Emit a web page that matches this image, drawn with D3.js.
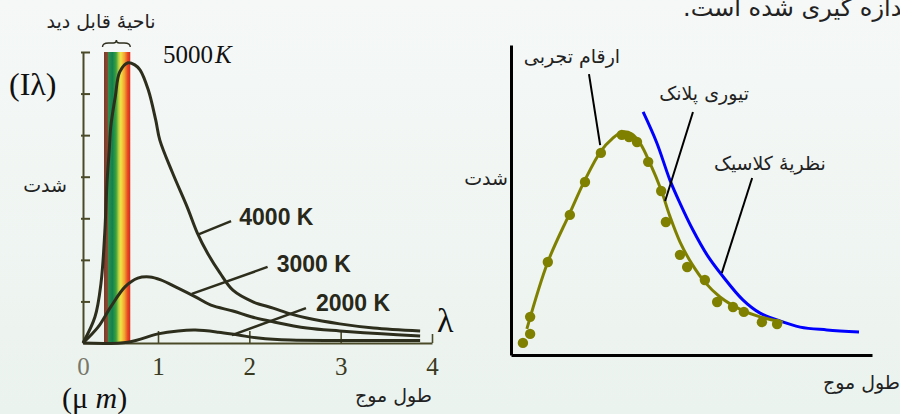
<!DOCTYPE html>
<html>
<head>
<meta charset="utf-8">
<script src="https://cdn.jsdelivr.net/npm/d3@7"></script>
<style>
  body { margin: 0; background: #f2f7f5; }
  svg { display: block; }
</style>
</head>
<body>
<div id="chart"></div>
<script>
// left panel: blackbody curves, x in micrometres, y in arbitrary intensity units
var lambdaTicks = [0, 1, 2, 3, 4];
var intensityTicks = [1, 2, 3, 4, 5, 6, 7];

var curveBig = [[0,0],[0.16,0.63],[0.24,1.44],[0.29,2.65],[0.32,3.85],[0.35,4.64],[0.37,5.2],
  [0.43,5.92],[0.49,6.52],[0.6,6.74],[0.69,6.69],[0.76,6.57],[0.87,6.09],[0.97,5.36],[1.02,4.88],
  [1.16,4.09],[1.32,3.27],[1.43,2.65],[1.54,2.17],[1.68,1.68],[1.82,1.27],[2.04,0.99],[2.26,0.84],
  [2.45,0.7],[2.63,0.6],[2.99,0.46],[3.36,0.36],[3.87,0.29]];
var curveMid = [[0,0],[0.2,0.38],[0.37,0.87],[0.56,1.35],[0.73,1.56],[0.89,1.59],[1.03,1.52],
  [1.22,1.32],[1.41,1.11],[1.58,0.91],[1.82,0.77],[2.02,0.63],[2.26,0.51],[2.63,0.36],[2.99,0.29],
  [3.45,0.22],[3.87,0.17]];
var curveSmall = [[0,0],[0.6,0.02],[1.0,0.22],[1.22,0.29],[1.41,0.31],[1.66,0.26],[1.88,0.19],
  [2.1,0.12],[2.45,0.07],[2.99,0.06],[3.87,0.06]];

var tempLabels = ["4000 K", "3000 K", "2000 K"];
// pointer ends [x0,y0,x1,y1] in data units, label anchor [x,y]
var tempPointers = [[1.80,2.93,1.43,2.60],[2.20,1.83,1.37,1.18],[2.62,0.84,1.81,0.19]];
var tempLabelPos = [[1.89,2.83],[2.30,1.70],[2.73,0.76]];

// right panel: measured points, planck fit, classical theory (arbitrary units)
var measured = [[0.33,0.39],[0.53,0.68],[0.53,1.23],[1.02,3.0],[1.63,4.52],[2.05,5.58],[2.49,6.52],
  [3.07,7.1],[3.27,7.03],[3.49,6.87],[3.8,6.23],[4.16,5.29],[4.29,4.29],[4.68,3.23],[4.88,2.84],
  [5.37,2.42],[5.71,1.71],[6.15,1.55],[6.45,1.39],[6.95,1.06],[7.37,1.0]];
var planck = [[0.44,0.84],[1.02,3.0],[1.63,4.58],[2.05,5.65],[2.49,6.58],[2.8,6.97],[3.07,7.19],
  [3.35,7.13],[3.57,6.84],[3.85,6.19],[4.16,5.32],[4.4,4.48],[4.68,3.65],[5.01,2.94],[5.37,2.35],
  [5.79,1.87],[6.34,1.48],[6.9,1.23],[7.53,1.06]];
var classical = [[3.66,7.84],[4.04,6.84],[4.4,5.65],[4.68,4.9],[5.04,4.03],[5.43,3.23],[5.84,2.58],
  [6.43,1.77],[6.9,1.35],[7.37,1.13],[8.01,0.9],[8.75,0.81],[9.64,0.74]];

var rightLabels = ["ارقام تجربی", "تیوری پلانک", "نظریهٔ کلاسیک"];
var rightLabelPos = [[1.69,9.42],[5.35,8.23],[7.17,5.97]];
var rightPointers = [[2.16,9.06,2.47,6.77],[5.04,7.84,4.27,4.97],[6.68,5.71,5.84,2.65]];

var width = 900, height = 414;
var ink = "#2e2e1d";
var persian = "'DejaVu Sans', sans-serif";
var serif = "'Liberation Serif', 'Times New Roman', serif";

var svg = d3.select("#chart").append("svg")
  .attr("width", width)
  .attr("height", height);

var defs = svg.append("defs");
var bg = defs.append("linearGradient").attr("id", "bg").attr("x1", 0).attr("y1", 0).attr("x2", 0).attr("y2", 1);
bg.append("stop").attr("offset", "0%").attr("stop-color", "#f5f8f7");
bg.append("stop").attr("offset", "100%").attr("stop-color", "#ebf3ee");

var rainbow = defs.append("linearGradient").attr("id", "rainbow");
[["0%","#7a3a2c"],["14%","#8a4a30"],["17%","#2e8e4e"],["32%","#11814f"],["46%","#3ca23e"],
 ["56%","#b9d043"],["64%","#f2e443"],["78%","#f2a233"],["90%","#e64a22"],["100%","#d8261e"]]
  .forEach(function(s) {
    rainbow.append("stop").attr("offset", s[0]).attr("stop-color", s[1]);
  });

svg.append("rect").attr("width", width).attr("height", height).attr("fill", "url(#bg)");

// ---------- left panel ----------
var x1 = d3.scaleLinear().domain([0, 1, 4]).range([83, 158, 432]);
var y1 = d3.scaleLinear().domain([0, 7]).range([343, 52]);

var left = svg.append("g");

// visible region strip (0.4 - 0.7 um)
left.append("rect")
  .attr("x", x1(0.28)).attr("y", y1(7))
  .attr("width", x1(0.63) - x1(0.28))
  .attr("height", y1(0) - y1(7))
  .attr("fill", "url(#rainbow)");

var bx0 = x1(0.26), bx1 = x1(0.63), bm = (bx0 + bx1) / 2, by = y1(7) - 9;
left.append("path")
  .attr("d", "M" + bx0 + "," + (by + 4) + " Q" + bx0 + "," + by + " " + (bx0 + 6) + "," + by +
    " L" + (bm - 3) + "," + by + " Q" + bm + "," + by + " " + bm + "," + (by - 3) +
    " Q" + bm + "," + by + " " + (bm + 3) + "," + by + " L" + (bx1 - 6) + "," + by +
    " Q" + bx1 + "," + by + " " + bx1 + "," + (by + 4))
  .attr("fill", "none").attr("stroke", ink).attr("stroke-width", 1.4);

var yAxisL = d3.axisRight(y1).tickValues(intensityTicks).tickSize(7).tickSizeOuter(0).tickFormat("");
left.append("g")
  .attr("transform", "translate(" + x1(0) + ",0)")
  .call(yAxisL)
  .call(function(g) {
    g.select(".domain").attr("stroke", "#4a4a28").attr("stroke-width", 2);
    g.selectAll(".tick line").attr("stroke", "#4a4a28").attr("stroke-width", 2).attr("x1", -2);
  });

var xAxisL = d3.axisBottom(x1).tickValues(lambdaTicks).tickFormat(d3.format("d"))
  .tickSize(-12).tickSizeOuter(0).tickPadding(14);
left.append("g")
  .attr("transform", "translate(0," + y1(0) + ")")
  .call(xAxisL)
  .call(function(g) {
    g.select(".domain").attr("stroke", "#4a4a28").attr("stroke-width", 2);
    g.selectAll(".tick line").attr("stroke", "#4a4a28").attr("stroke-width", 1.6);
    g.selectAll(".tick").filter(function(d) { return d === 0; }).select("line").remove();
    g.selectAll(".tick").filter(function(d) { return d === 4; }).select("line").attr("y2", -9);
    g.selectAll(".tick text")
      .attr("font-family", serif).attr("font-size", 25)
      .attr("fill", function(d) { return d === 0 ? "#77776a" : "#3a3a22"; });
  });

var lineL = d3.line()
  .x(function(d) { return x1(d[0]); })
  .y(function(d) { return y1(d[1]); })
  .curve(d3.curveCatmullRom.alpha(0.5));

left.selectAll(".bb")
  .data([curveSmall, curveMid, curveBig])
  .enter()
  .append("path")
  .attr("class", "bb")
  .attr("d", lineL)
  .attr("fill", "none")
  .attr("stroke", ink)
  .attr("stroke-width", 3);

left.selectAll(".ptr")
  .data(tempPointers)
  .enter()
  .append("line")
  .attr("x1", function(d) { return x1(d[0]); })
  .attr("y1", function(d) { return y1(d[1]); })
  .attr("x2", function(d) { return x1(d[2]); })
  .attr("y2", function(d) { return y1(d[3]); })
  .attr("stroke", ink).attr("stroke-width", 2.5);

left.selectAll(".tl")
  .data(tempLabels)
  .enter()
  .append("text")
  .attr("x", function(d, i) { return x1(tempLabelPos[i][0]); })
  .attr("y", function(d, i) { return y1(tempLabelPos[i][1]); })
  .attr("font-family", "'Liberation Sans', Arial, sans-serif")
  .attr("font-weight", "bold")
  .attr("font-size", 23)
  .attr("fill", "#28281a")
  .text(function(d) { return d; });

var t5000 = left.append("text")
  .attr("x", 163).attr("y", 63)
  .attr("font-family", serif).attr("font-size", 25).attr("fill", "#111");
t5000.append("tspan").text("5000");
t5000.append("tspan").attr("dx", 2).attr("font-style", "italic").text("K");

left.append("text")
  .attr("x", 9).attr("y", 95)
  .attr("font-family", serif).attr("font-size", 32).attr("fill", "#111")
  .text("(Iλ)");

left.append("text")
  .attr("x", 437).attr("y", 332)
  .attr("font-family", serif).attr("font-size", 34).attr("fill", "#111")
  .text("λ");

var um = left.append("text")
  .attr("x", 62).attr("y", 408)
  .attr("font-family", serif).attr("font-size", 30).attr("fill", "#111");
um.append("tspan").text("(μ ");
um.append("tspan").attr("font-style", "italic").text("m");
um.append("tspan").text(")");

left.append("text")
  .attr("x", 101).attr("y", 28)
  .attr("text-anchor", "middle")
  .attr("font-family", persian).attr("font-size", 19).attr("fill", "#222")
  .text("ناحیهٔ قابل دید");

left.append("text")
  .attr("x", 67).attr("y", 192)
  .attr("text-anchor", "end")
  .attr("font-family", persian).attr("font-size", 19).attr("fill", "#222")
  .text("شدت");

left.append("text")
  .attr("x", 432).attr("y", 402)
  .attr("text-anchor", "end")
  .attr("font-family", persian).attr("font-size", 19).attr("fill", "#222")
  .text("طول موج");

// ---------- right panel ----------
var x2 = d3.scaleLinear().domain([0, 10]).range([511, 872]);
var y2 = d3.scaleLinear().domain([0, 10]).range([355, 45]);

var right = svg.append("g");

right.append("g")
  .attr("transform", "translate(" + x2(0) + ",0)")
  .call(d3.axisLeft(y2).tickValues([]).tickSizeOuter(0))
  .select(".domain").attr("stroke", "#000").attr("stroke-width", 3);

right.append("g")
  .attr("transform", "translate(0," + y2(0) + ")")
  .call(d3.axisBottom(x2).tickValues([]).tickSizeOuter(0))
  .select(".domain").attr("stroke", "#000").attr("stroke-width", 3);

var lineR = d3.line()
  .x(function(d) { return x2(d[0]); })
  .y(function(d) { return y2(d[1]); })
  .curve(d3.curveCatmullRom.alpha(0.5));

right.append("path")
  .datum(classical)
  .attr("d", lineR)
  .attr("fill", "none").attr("stroke", "#0000ff").attr("stroke-width", 3);

right.append("path")
  .datum(planck)
  .attr("d", lineR)
  .attr("fill", "none").attr("stroke", "#808000").attr("stroke-width", 3);

right.selectAll(".dot")
  .data(measured)
  .enter()
  .append("circle")
  .attr("cx", function(d) { return x2(d[0]); })
  .attr("cy", function(d) { return y2(d[1]); })
  .attr("r", 5.2)
  .style("fill", "#808000");

right.selectAll(".rp")
  .data(rightPointers)
  .enter()
  .append("line")
  .attr("x1", function(d) { return x2(d[0]); })
  .attr("y1", function(d) { return y2(d[1]); })
  .attr("x2", function(d) { return x2(d[2]); })
  .attr("y2", function(d) { return y2(d[3]); })
  .attr("stroke", "#000").attr("stroke-width", 2);

right.selectAll(".rl")
  .data(rightLabels)
  .enter()
  .append("text")
  .attr("x", function(d, i) { return x2(rightLabelPos[i][0]); })
  .attr("y", function(d, i) { return y2(rightLabelPos[i][1]); })
  .attr("text-anchor", "middle")
  .attr("font-family", persian).attr("font-size", 19).attr("fill", "#222")
  .text(function(d) { return d; });

right.append("text")
  .attr("x", 508).attr("y", 185)
  .attr("text-anchor", "end")
  .attr("font-family", persian).attr("font-size", 19).attr("fill", "#222")
  .text("شدت");

right.append("text")
  .attr("x", 900).attr("y", 389)
  .attr("text-anchor", "end")
  .attr("font-family", persian).attr("font-size", 19).attr("fill", "#222")
  .text("طول موج");

svg.append("text")
  .attr("x", 683).attr("y", 16)
  .attr("direction", "rtl")
  .attr("text-anchor", "end")
  .attr("font-family", persian).attr("font-size", 24).attr("fill", "#222")
  .text("اندازه گیری شده است.");
</script>
</body>
</html>
